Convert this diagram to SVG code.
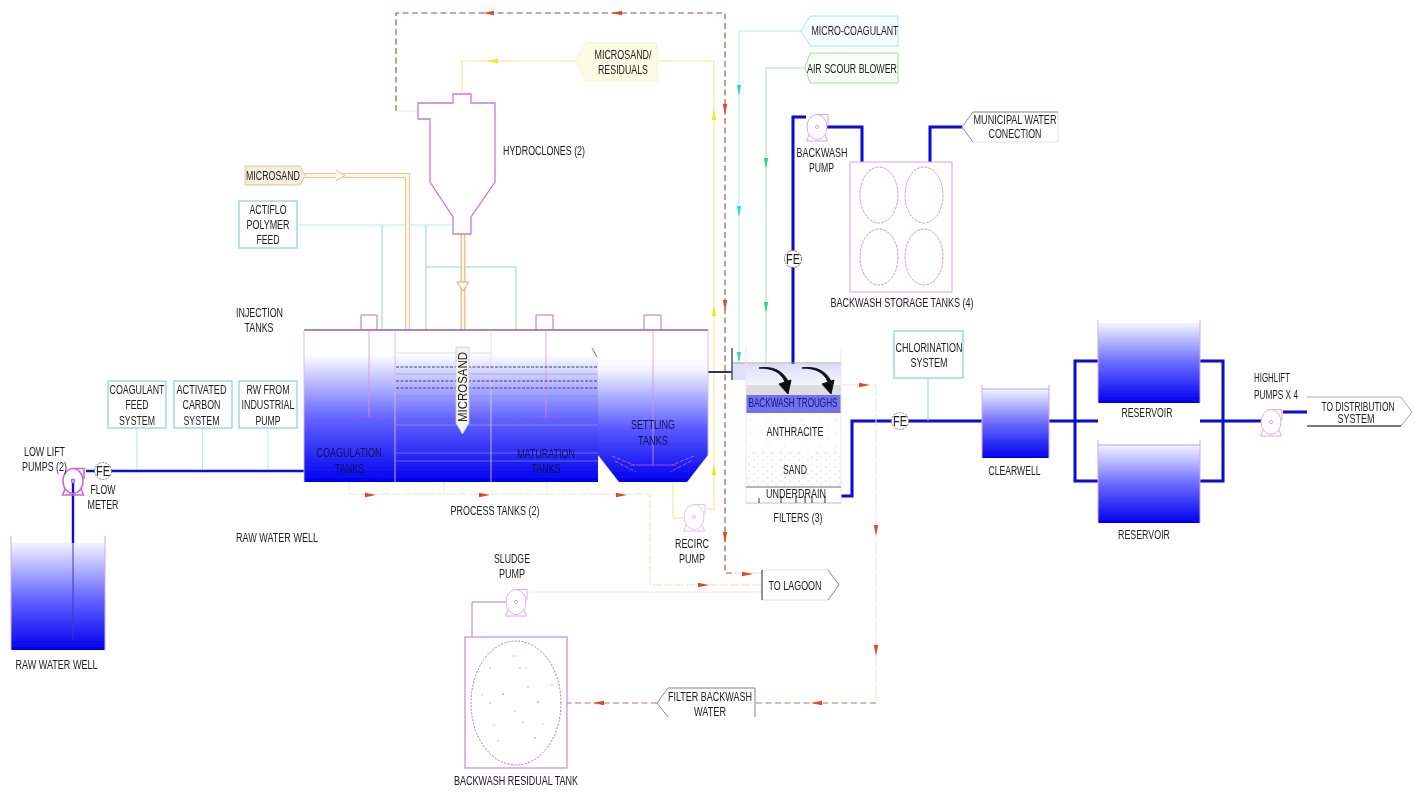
<svg xmlns="http://www.w3.org/2000/svg" xmlns:xlink="http://www.w3.org/1999/xlink" width="1416" height="792" viewBox="0 0 1416 792">
<style>
text{font-family:"Liberation Sans",Arial,sans-serif;font-size:12px;fill:#1c1c1c;text-anchor:middle}
text.w{fill:#10105a}
text.b{fill:#14148c}
.blue{fill:none;stroke:#0a0ad2;stroke-width:3}
.blue2{fill:none;stroke:#0a0ad2;stroke-width:2.4}
.cy{fill:none;stroke:#b4ecee;stroke-width:1}
.teal{fill:none;stroke:#88d0cc;stroke-width:.9}
.box{fill:#fff;stroke:#8fd6d4;stroke-width:1.3}
.vio{fill:none;stroke:#c87ad8;stroke-width:1.3}
.top{fill:none;stroke:#9a5aae;stroke-width:1.4}
.rd{fill:none;stroke:#8f5040;stroke-width:1.1;stroke-dasharray:6 3.500}
.pe{fill:none;stroke:#f8dcc8;stroke-width:1;stroke-dasharray:9 2}
.ye{fill:none;stroke:#ece880;stroke-width:1}
.gr{fill:none;stroke:#b4deb4;stroke-width:1}
.pm{fill:none;stroke:#d8a8e2;stroke-width:1}
.ar{fill:#dc4c28}
.ay{fill:#eeea20}
.ac{fill:#30d8d8}
.ag{fill:#30d870}
.dl{fill:none;stroke:#3c3c80;stroke-width:1.1;stroke-dasharray:3 1.500}
.ll{fill:none;stroke:#b8b8f0;stroke-width:.8;opacity:.6}
</style>
<defs>
<linearGradient id="g" x1="0" y1="0" x2="0" y2="1"><stop offset="0" stop-color="#f4f4ff"/><stop offset=".5" stop-color="#6a6aff"/><stop offset="1" stop-color="#0000ee"/></linearGradient>
<linearGradient id="gm" x1="0" y1="0" x2="0" y2="1"><stop offset="0" stop-color="#fff"/><stop offset=".16" stop-color="#fff"/><stop offset=".58" stop-color="#6464ff"/><stop offset="1" stop-color="#0000ee"/></linearGradient>
<linearGradient id="gs" x1="0" y1="0" x2="0" y2="1"><stop offset="0" stop-color="#fff"/><stop offset=".08" stop-color="#f2f2ff"/><stop offset=".55" stop-color="#5c5cff"/><stop offset="1" stop-color="#0000ee"/></linearGradient>
<linearGradient id="gf" x1="0" y1="0" x2="0" y2="1"><stop offset="0" stop-color="#dcdcfa"/><stop offset="1" stop-color="#f6f6ff"/></linearGradient>
<pattern id="sparse" width="17" height="13" patternUnits="userSpaceOnUse"><circle cx="3" cy="4" r=".45" fill="#aaa"/><circle cx="12" cy="10" r=".45" fill="#bbb"/></pattern>
<pattern id="dense" width="9" height="7" patternUnits="userSpaceOnUse"><circle cx="2" cy="2" r=".5" fill="#aaa"/><circle cx="7" cy="5" r=".5" fill="#999"/></pattern>
<polygon id="ah" points="6,0 -5,-2.200 -5,2.200"/>
<g id="pump" fill="none">
<ellipse cx="0" cy="0" rx="10" ry="12.5"/><path d="M0,-12.5H11V-2"/><path d="M-8,8L-10.5,14H10.5L8,8"/><circle cx="0" cy="0" r="1.6"/>
</g>
<filter id="soft" filterUnits="userSpaceOnUse" x="0" y="0" width="1416" height="792"><feGaussianBlur stdDeviation=".35"/></filter>
</defs>
<rect width="1416" height="792" fill="#fff"/>
<g filter="url(#soft)">
<g id="connectors">
<path class="rd" d="M396,111V13H725V573H736"/>
<path d="M396,111H418M736,573H762" fill="none" stroke="#f4dccc"/>
<path class="ye" d="M575,61H462V94M657,61H714V509H707M673,473V518H684"/>
<path class="cy" d="M297,225H453"/>
<path class="teal" d="M382,225V330M426,225V330M426,267H516V330"/>
<path d="M305,175.500H407.500V330" fill="none" stroke="#dccb9c" stroke-width="5"/>
<path d="M305,175.500H407.500V330" fill="none" stroke="#fbf6e6" stroke-width="3"/>
<path d="M463,234V347" fill="none" stroke="#d8c48c" stroke-width="5"/>
<path d="M463,234V347" fill="none" stroke="#fbf6e6" stroke-width="2.400"/>
<path d="M336,170L345,175.500L336,181" fill="#fbf6e6" stroke="#d8c48c"/>
<path d="M457,282H469L463,291Z" fill="#fbf6e6" stroke="#c8b47c"/>
<path class="cy" d="M137,428V471M202.500,428V471M268,428V471"/>
<path class="blue2" d="M86,471H304"/>
<path class="blue2" d="M73,482V543"/>
<path class="cy" d="M801,31H739V360"/>
<path class="gr" d="M805,68H766V364"/>
<path class="blue" d="M793,364V117H806M827,127H862V162M930,162V127H962"/>
<path d="M708,372H732" fill="none" stroke="#33335a" stroke-width="2"/>
<path class="blue" d="M841,496H852V421H982"/>
<path class="teal" d="M928,378V421"/>
<path class="blue" d="M1049,421H1098M1200,421H1261M1283,412H1307"/>
<path class="blue" d="M1098,361H1075V481H1098M1200,361H1223V481H1200" stroke-width="2.400"/>
<path class="pe" d="M349,482V494H650V585H762M444,482V494M547,482V494"/>
<path d="M841,385H876V703" fill="none" stroke="#fae0d0" stroke-dasharray="14 2"/>
<path class="rd" d="M876,703H755M657,703H567" style="stroke:#b07c64"/>
<path d="M530,592H762" fill="none" stroke="#fae6e6" stroke-width="1.200"/>
<path d="M506,602H472V637" fill="none" stroke="#b080bc" stroke-width="1"/>
<g class="ar">
<use href="#ah" transform="translate(489,13) rotate(180)"/>
<use href="#ah" transform="translate(617,13) rotate(180)"/>
<use href="#ah" transform="translate(725,109) rotate(90)"/>
<use href="#ah" transform="translate(725,305) rotate(90)"/>
<use href="#ah" transform="translate(725,537) rotate(90)"/>
<use href="#ah" transform="translate(370,495)"/>
<use href="#ah" transform="translate(484,495)"/>
<use href="#ah" transform="translate(621,495)"/>
<use href="#ah" transform="translate(703,585)"/>
<use href="#ah" transform="translate(747,574)"/>
<use href="#ah" transform="translate(864,385)"/>
<use href="#ah" transform="translate(876,530) rotate(90)"/>
<use href="#ah" transform="translate(876,650) rotate(90)"/>
<use href="#ah" transform="translate(817,703) rotate(180)"/>
<use href="#ah" transform="translate(599,703) rotate(180)"/>
</g>
<g class="ay">
<use href="#ah" transform="translate(493,61) rotate(180)"/>
<use href="#ah" transform="translate(714,115) rotate(-90)"/>
<use href="#ah" transform="translate(714,311) rotate(-90)"/>
<use href="#ah" transform="translate(714,470) rotate(-90)"/>
</g>
<g class="ac">
<use href="#ah" transform="translate(739,90) rotate(90)"/>
<use href="#ah" transform="translate(739,211) rotate(90)"/>
<use href="#ah" transform="translate(739,357) rotate(90)"/>
</g>
<g class="ag">
<use href="#ah" transform="translate(766,163) rotate(90)"/>
<use href="#ah" transform="translate(766,307) rotate(90)"/>
</g>
</g>

<g id="raw-water-well">
<rect x="11" y="543" width="94" height="107" fill="url(#g)"/>
<path class="pm" d="M11,536V650M105,536V650"/>
<path d="M73,543V640" fill="none" stroke="#3a3ac0" stroke-width="1"/>
<text x="56.500" y="669" textLength="82" lengthAdjust="spacingAndGlyphs">RAW WATER WELL</text>
<text x="277" y="542" textLength="82" lengthAdjust="spacingAndGlyphs">RAW WATER WELL</text>
</g>
<g id="low-lift-pumps">
<use href="#pump" transform="translate(73,481)" style="stroke:#c868dc;stroke-width:1.600"/>
<text x="44.500" y="456" textLength="41" lengthAdjust="spacingAndGlyphs">LOW LIFT</text>
<text x="44.500" y="471" textLength="45" lengthAdjust="spacingAndGlyphs">PUMPS (2)</text>
</g>
<g id="flow-meter">
<circle cx="103" cy="471" r="8.500" fill="#fff" stroke="#777" stroke-dasharray="2 1"/>
<text x="103" y="476" style="font-size:14px" textLength="14" lengthAdjust="spacingAndGlyphs">FE</text>
<text x="103" y="494" textLength="25" lengthAdjust="spacingAndGlyphs">FLOW</text>
<text x="103" y="509" textLength="31" lengthAdjust="spacingAndGlyphs">METER</text>
</g>
<g id="coagulant-feed">
<rect class="box" x="108" y="381" width="58" height="47"/>
<text x="137" y="394" textLength="55" lengthAdjust="spacingAndGlyphs">COAGULANT</text>
<text x="137" y="409" textLength="23" lengthAdjust="spacingAndGlyphs">FEED</text>
<text x="137" y="425" textLength="36" lengthAdjust="spacingAndGlyphs">SYSTEM</text>
</g>
<g id="activated-carbon">
<rect class="box" x="174" y="381" width="58" height="47"/>
<text x="201.500" y="394" textLength="50" lengthAdjust="spacingAndGlyphs">ACTIVATED</text>
<text x="201.500" y="409" textLength="38" lengthAdjust="spacingAndGlyphs">CARBON</text>
<text x="201.500" y="425" textLength="36" lengthAdjust="spacingAndGlyphs">SYSTEM</text>
</g>
<g id="rw-industrial">
<rect class="box" x="239" y="381" width="58" height="47"/>
<text x="268" y="394" textLength="43" lengthAdjust="spacingAndGlyphs">RW FROM</text>
<text x="268" y="409" textLength="53" lengthAdjust="spacingAndGlyphs">INDUSTRIAL</text>
<text x="268" y="425" textLength="25" lengthAdjust="spacingAndGlyphs">PUMP</text>
</g>
<g id="actiflo-polymer">
<rect class="box" x="239" y="201" width="58" height="47"/>
<text x="268" y="214" textLength="37" lengthAdjust="spacingAndGlyphs">ACTIFLO</text>
<text x="268" y="229" textLength="43" lengthAdjust="spacingAndGlyphs">POLYMER</text>
<text x="268" y="244" textLength="23" lengthAdjust="spacingAndGlyphs">FEED</text>
</g>
<g id="microsand-feed">
<polygon points="245,166 300,166 305,175.500 300,185 245,185" fill="#f4eedc" stroke="#d8c89c"/>
<text x="273" y="180" textLength="54" lengthAdjust="spacingAndGlyphs">MICROSAND</text>
</g>
<g id="hydroclones">
<polygon class="vio" points="418,103 453,103 453,94 471,94 471,103 495,103 495,182 471,217 471,234 453,234 453,217 430,182 430,119 418,119"/>
<text x="544" y="155" textLength="82" lengthAdjust="spacingAndGlyphs">HYDROCLONES (2)</text>
</g>
<g id="microsand-residuals">
<polygon points="575,61 586,43 657,43 657,81 586,81" fill="#fbfbe6" stroke="#f4f4c8"/>
<text x="623" y="59" textLength="57" lengthAdjust="spacingAndGlyphs">MICROSAND/</text>
<text x="623" y="74" textLength="50" lengthAdjust="spacingAndGlyphs">RESIDUALS</text>
</g>
<g id="injection-label">
<text x="259.500" y="317" textLength="47" lengthAdjust="spacingAndGlyphs">INJECTION</text>
<text x="259" y="332" textLength="29" lengthAdjust="spacingAndGlyphs">TANKS</text>
</g>
<g id="process-tanks">
<rect x="304" y="330" width="294" height="152" fill="url(#gm)"/>
<polygon points="708,361 708,455 687,482 619,482 598,455 598,361" fill="url(#gs)"/>
<path d="M304,330H708" class="top"/>
<path d="M304,330V482M708,330V455M395,330V482" fill="none" stroke="#dcb4f2" stroke-width=".9"/>
<path d="M491,330V482" fill="none" stroke="#e4d0f4" stroke-width=".8"/>
<path d="M592,348L597,357" stroke="#777" fill="none"/>
<path d="M598,361H708" class="ll" style="stroke:#e8e8fa"/>
<path d="M361,330V315H377V330M536,330V315H553V330M644,330V315H661V330" fill="none" stroke="#a878b4" stroke-width="1"/>
<path d="M369,330V417M546,330V417M653,330V465" fill="none" stroke="#d098dc" stroke-width=".8"/>
<path d="M358,417H380M535,417H557" stroke="#d050d8" stroke-width="1" stroke-dasharray="3 1" fill="none" opacity=".6"/>
<path d="M395,353H491" fill="none" stroke="#e4dae8"/>
<path class="dl" d="M396,367H598M396,381H598M396,388H598"/>
<path class="ll" style="stroke:#8080d0" d="M396,374H598M396,396H598"/>
<path class="ll" d="M396,425H598M396,453H598M396,461H598"/>
<path d="M612,456L634,465M615,461L636,472M694,456L672,465M691,461L670,472" fill="none" stroke="#d070e0" stroke-dasharray="4 1.500" opacity=".75"/>
<path d="M630,465H676" fill="none" stroke="#d050e0" opacity=".75"/>
<text class="w" x="349" y="457" textLength="65" lengthAdjust="spacingAndGlyphs">COAGULATION</text>
<text class="w" x="349.500" y="473" textLength="29" lengthAdjust="spacingAndGlyphs">TANKS</text>
<text class="w" x="546" y="458" textLength="58" lengthAdjust="spacingAndGlyphs">MATURATION</text>
<text class="w" x="546" y="473" textLength="29" lengthAdjust="spacingAndGlyphs">TANKS</text>
<text class="w" x="653" y="429" textLength="44" lengthAdjust="spacingAndGlyphs">SETTLING</text>
<text class="w" x="653" y="445" textLength="30" lengthAdjust="spacingAndGlyphs">TANKS</text>
<text x="495" y="515" textLength="89" lengthAdjust="spacingAndGlyphs">PROCESS TANKS (2)</text>
</g>
<g id="microsand-arrow">
<polygon points="456,347 469,347 469,423 462.500,434 456,423" fill="#f6f4ea" stroke="#ccc" stroke-width=".8"/>
<text x="0" y="0" transform="translate(466.500,387) rotate(-90)" textLength="70" lengthAdjust="spacingAndGlyphs">MICROSAND</text>
</g>
<g id="recirc-pump">
<use href="#pump" transform="translate(694,517)" style="stroke:#e0c8e8"/>
<text x="692" y="548" textLength="34" lengthAdjust="spacingAndGlyphs">RECIRC</text>
<text x="692" y="563" textLength="26" lengthAdjust="spacingAndGlyphs">PUMP</text>
</g>
<g id="sludge-pump">
<use href="#pump" transform="translate(516,602)" style="stroke:#d4b0e0"/>
<text x="512" y="563" textLength="36" lengthAdjust="spacingAndGlyphs">SLUDGE</text>
<text x="512" y="578" textLength="26" lengthAdjust="spacingAndGlyphs">PUMP</text>
</g>
<g id="backwash-residual-tank">
<rect x="465" y="637" width="102" height="131" fill="#fff" stroke="#c88ad4" stroke-width="1.200"/>
<ellipse cx="516" cy="703" rx="45" ry="62" fill="#fff" stroke="#a08090" stroke-dasharray="2 1.500"/>
<g fill="#b9a8bc">
<circle cx="514" cy="656" r=".8"/><circle cx="490" cy="668" r=".7"/><circle cx="520" cy="668" r=".8"/><circle cx="482" cy="695" r=".7"/><circle cx="503" cy="694" r="1"/><circle cx="526" cy="668" r=".7"/><circle cx="528" cy="687" r=".8"/><circle cx="538" cy="702" r=".9"/><circle cx="515" cy="711" r=".7"/><circle cx="523" cy="722" r=".8"/><circle cx="494" cy="725" r=".7"/><circle cx="498" cy="741" r=".8"/><circle cx="535" cy="738" r=".9"/><circle cx="552" cy="685" r=".7"/><circle cx="490" cy="703" r=".8"/><circle cx="543" cy="724" r=".7"/>
</g>
<text x="516" y="785" textLength="124" lengthAdjust="spacingAndGlyphs">BACKWASH RESIDUAL TANK</text>
</g>
<g id="filter-backwash-water">
<path d="M668,717L657,703L668,688H755V717" fill="#fff" stroke="#777" stroke-width=".9"/>
<text x="710" y="701" textLength="84" lengthAdjust="spacingAndGlyphs">FILTER BACKWASH</text>
<text x="710" y="716" textLength="32" lengthAdjust="spacingAndGlyphs">WATER</text>
</g>
<g id="to-lagoon">
<path d="M762,570H828L839,585L828,600H762" fill="#fff" stroke="#e4e4e4"/>
<path d="M828,570L839,585L828,600" fill="none" stroke="#888"/>
<path d="M762,570V600" stroke="#444" stroke-width="1.200"/>
<text x="795" y="590" textLength="53" lengthAdjust="spacingAndGlyphs">TO LAGOON</text>
</g>
<g id="micro-coagulant">
<polygon points="801,31 810,16 898,16 898,46 810,46" fill="#f6fdfe" stroke="#a5e8ea"/>
<text x="855" y="35" textLength="87" lengthAdjust="spacingAndGlyphs">MICRO-COAGULANT</text>
</g>
<g id="air-scour-blower">
<polygon points="805,68 810,53 898,53 898,83 810,83" fill="#f8fdf8" stroke="#a8d8a8"/>
<text x="852" y="73" textLength="90" lengthAdjust="spacingAndGlyphs">AIR SCOUR BLOWER</text>
</g>
<g id="backwash-pump">
<use href="#pump" transform="translate(817,127)" style="stroke:#d8a8e0"/>
<text x="822" y="157" textLength="51" lengthAdjust="spacingAndGlyphs">BACKWASH</text>
<text x="821.500" y="172" textLength="25" lengthAdjust="spacingAndGlyphs">PUMP</text>
</g>
<g id="backwash-storage-tanks">
<rect x="850" y="162" width="102" height="130" fill="#fff" stroke="#d6b0e0" stroke-width="1.100"/>
<g fill="none" stroke="#c89ccc" stroke-dasharray="3 1">
<ellipse cx="879" cy="195" rx="19" ry="28"/><ellipse cx="924" cy="195" rx="19" ry="28"/><ellipse cx="879" cy="257" rx="19" ry="28"/><ellipse cx="924" cy="257" rx="19" ry="28"/>
</g>
<text x="902" y="307" textLength="143" lengthAdjust="spacingAndGlyphs">BACKWASH STORAGE TANKS (4)</text>
</g>
<g id="municipal-water">
<path d="M973,142L962,127L973,112H1058V142Z" fill="#fff" stroke="#e0e0ec"/>
<path d="M973,142L962,127L973,112H1058" fill="none" stroke="#8a90bc"/>
<text x="1015" y="124" textLength="83" lengthAdjust="spacingAndGlyphs">MUNICIPAL WATER</text>
<text x="1015" y="138" textLength="53" lengthAdjust="spacingAndGlyphs">CONECTION</text>
</g>
<g id="backwash-flow-meter">
<circle cx="793" cy="259" r="8.500" fill="#fff" stroke="#666" stroke-dasharray="2 1"/>
<text x="793" y="264" style="font-size:14px" textLength="14" lengthAdjust="spacingAndGlyphs">FE</text>
</g>
<g id="filters">
<rect x="732" y="363" width="14" height="17" fill="#e0e0fa"/>
<rect x="746" y="364" width="95" height="21" fill="url(#gf)"/>
<rect x="746" y="385" width="95" height="10" fill="#dcdce0"/>
<rect x="746" y="395" width="95" height="18" fill="#7272ea"/>
<rect x="746" y="413" width="95" height="38" fill="url(#sparse)"/>
<rect x="746" y="451" width="95" height="36" fill="url(#dense)"/>
<path d="M732,363H841" stroke="#a0a0a8" fill="none"/>
<path d="M732,348V380" stroke="#555566" stroke-width="1.500" fill="none"/>
<path d="M746,348V503H841V348" fill="none" stroke="#f0e2f4"/>
<path d="M746,487H841" stroke="#707070" fill="none"/>
<path d="M746,503H841" stroke="#d8c0dc" fill="none"/>
<path d="M759,503V498M781,503V496M796,503V496M805,503V496M812,503V496M825,503V496" stroke="#333" fill="none"/>
<path d="M759,368C772,368 781,372 785,382L779,384L788,394L791,380L788,381C782,370 772,366 759,368Z" fill="#111" stroke="#111" stroke-width="1"/>
<path d="M802,368C815,368 824,372 828,382L822,384L831,394L834,380L831,381C825,370 815,366 802,368Z" fill="#111" stroke="#111" stroke-width="1"/>
<text class="b" x="793" y="407" textLength="89" lengthAdjust="spacingAndGlyphs">BACKWASH TROUGHS</text>
<text x="795" y="436" textLength="57" lengthAdjust="spacingAndGlyphs">ANTHRACITE</text>
<text x="795" y="474" textLength="24" lengthAdjust="spacingAndGlyphs">SAND</text>
<text x="796" y="498" textLength="60" lengthAdjust="spacingAndGlyphs">UNDERDRAIN</text>
<text x="798" y="522" textLength="49" lengthAdjust="spacingAndGlyphs">FILTERS (3)</text>
</g>
<g id="filter-flow-meter">
<circle cx="900" cy="421" r="8.500" fill="#fff" stroke="#888" stroke-dasharray="2 1"/>
<text x="900" y="426" style="font-size:14px" textLength="14" lengthAdjust="spacingAndGlyphs">FE</text>
</g>
<g id="chlorination-system">
<rect class="box" x="894" y="331" width="69" height="47"/>
<text x="929" y="352" textLength="67" lengthAdjust="spacingAndGlyphs">CHLORINATION</text>
<text x="929" y="367" textLength="37" lengthAdjust="spacingAndGlyphs">SYSTEM</text>
</g>
<g id="clearwell">
<rect x="982" y="389" width="67" height="69" fill="url(#g)"/>
<path d="M982,389H1049" stroke="#b8a8c4" fill="none"/>
<path class="pm" d="M982,385V458M1049,385V458"/>
<text x="1014.500" y="475" textLength="52" lengthAdjust="spacingAndGlyphs">CLEARWELL</text>
</g>
<g id="reservoir-1">
<rect x="1098" y="323" width="102" height="80" fill="url(#g)"/>
<path class="pm" d="M1098,320V403M1200,320V403"/>
<text x="1147" y="417" textLength="51" lengthAdjust="spacingAndGlyphs">RESERVOIR</text>
</g>
<g id="reservoir-2">
<rect x="1098" y="445" width="102" height="78" fill="url(#g)"/>
<path d="M1098,445H1200" stroke="#b8a8c4" fill="none"/>
<path class="pm" d="M1098,440V523M1200,440V523"/>
<text x="1144" y="539" textLength="52" lengthAdjust="spacingAndGlyphs">RESERVOIR</text>
</g>
<g id="highlift-pumps">
<use href="#pump" transform="translate(1271,422)" style="stroke:#d4b0e0"/>
<text x="1272" y="382" textLength="36" lengthAdjust="spacingAndGlyphs">HIGHLIFT</text>
<text x="1276" y="399" textLength="44" lengthAdjust="spacingAndGlyphs">PUMPS X 4</text>
</g>
<g id="to-distribution">
<path d="M1307,397H1401L1412,412L1401,426H1307" fill="#fff" stroke="#aaa"/>
<path d="M1307,426H1401" stroke="#222" stroke-width="1.200" fill="none"/>
<text x="1358" y="411" textLength="73" lengthAdjust="spacingAndGlyphs">TO DISTRIBUTION</text>
<text x="1356" y="423" textLength="37" lengthAdjust="spacingAndGlyphs">SYSTEM</text>
</g>
</g>
</svg>
